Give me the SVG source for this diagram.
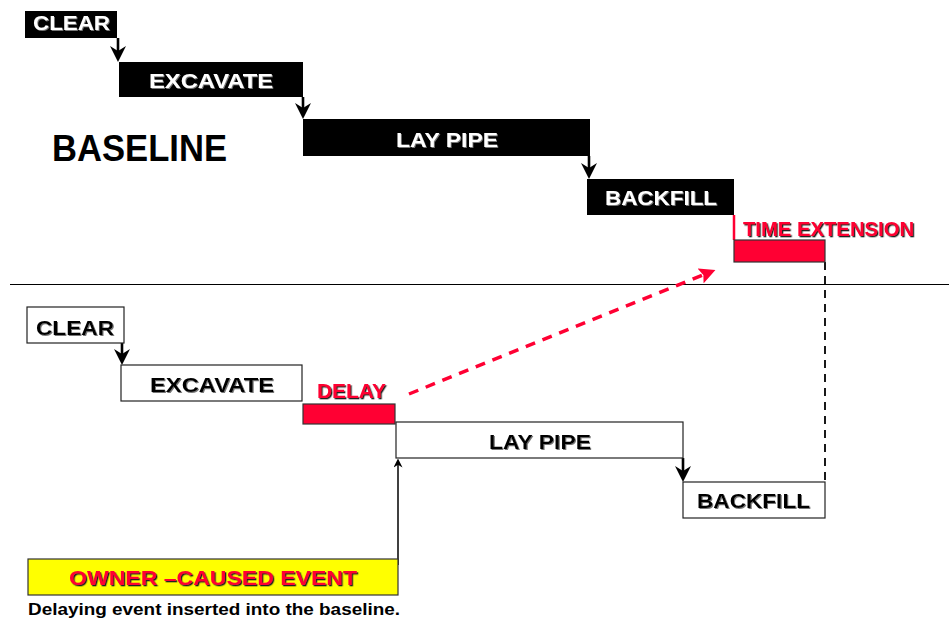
<svg xmlns="http://www.w3.org/2000/svg" width="949" height="624" viewBox="0 0 949 624">
<style>
.lbl{font-family:"Liberation Sans",Arial,sans-serif;font-weight:bold;}
.w{fill:#ffffff;font-size:20px;filter:url(#sh);}
.k{fill:#000000;font-size:21px;filter:url(#sh);}
.r{fill:#ff0033;font-size:20px;filter:url(#shr);}
.bx{fill:#000000;}
.wb{fill:#ffffff;stroke:#222222;stroke-width:1.2;}
.rb{fill:#ff0033;stroke:#333333;stroke-width:1.2;}
.con{stroke:#000000;stroke-width:2.6;fill:none;}
</style>
<defs>
<filter id="sh" x="-5%" y="-20%" width="115%" height="150%">
<feDropShadow dx="1" dy="1" stdDeviation="0.3" flood-color="#777777"/>
</filter>
<filter id="shr" x="-5%" y="-20%" width="115%" height="150%">
<feDropShadow dx="1.3" dy="1.3" stdDeviation="0.2" flood-color="#222222"/>
</filter>
<marker id="ak" viewBox="0 0 16 16" markerWidth="16" markerHeight="16" refX="7" refY="8" orient="auto" markerUnits="userSpaceOnUse">
<path d="M0,0 L16,8 L0,16 L5,8 z" fill="#000000"/>
</marker>
<marker id="aks" viewBox="0 0 10 10" markerWidth="9" markerHeight="9" refX="5" refY="5" orient="auto" markerUnits="userSpaceOnUse">
<path d="M0,0 L10,5 L0,10 L3,5 z" fill="#000000"/>
</marker>
<marker id="ar" viewBox="0 0 16 16" markerWidth="16" markerHeight="16" refX="8" refY="8" orient="auto" markerUnits="userSpaceOnUse">
<path d="M0,0 L16,8 L0,16 L3,8 z" fill="#ff0033"/>
</marker>
</defs>
<rect x="0" y="0" width="949" height="624" fill="#ffffff"/>

<g id="connectors">
<line x1="10" y1="284.5" x2="949" y2="284.5" stroke="#000000" stroke-width="1"/>
<line class="con" x1="118" y1="38" x2="118" y2="53" marker-end="url(#ak)"/>
<line class="con" x1="303" y1="97" x2="303" y2="110" marker-end="url(#ak)"/>
<line class="con" x1="589" y1="156" x2="589" y2="170" marker-end="url(#ak)"/>
<line x1="734" y1="215" x2="734" y2="240" stroke="#ff0033" stroke-width="2.5"/>
<line x1="825" y1="262" x2="825" y2="482" stroke="#000000" stroke-width="1.8" stroke-dasharray="8,6"/>
<line class="con" x1="122" y1="343" x2="122" y2="356" marker-end="url(#ak)"/>
<line class="con" x1="683" y1="458" x2="683" y2="473" marker-end="url(#ak)"/>
<line x1="398" y1="565" x2="398" y2="463" stroke="#000000" stroke-width="1.5" marker-end="url(#aks)"/>
<line x1="409" y1="394" x2="708" y2="273" stroke="#ff0033" stroke-width="3.5" stroke-dasharray="10,8" marker-end="url(#ar)"/>
</g>

<g id="baseline-label">
<text class="lbl" x="52" y="161" font-size="36" fill="#000000" textLength="175" lengthAdjust="spacingAndGlyphs">BASELINE</text>
</g>

<g id="b-clear">
<rect class="bx" x="25" y="11" width="92" height="27"/>
<text class="lbl w" x="33" y="30" textLength="77" lengthAdjust="spacingAndGlyphs">CLEAR</text>
</g>
<g id="b-excavate">
<rect class="bx" x="119" y="62" width="184" height="35"/>
<text class="lbl w" x="149" y="88" textLength="124" lengthAdjust="spacingAndGlyphs">EXCAVATE</text>
</g>
<g id="b-laypipe">
<rect class="bx" x="303" y="119" width="287" height="37"/>
<text class="lbl w" x="396" y="147" textLength="102" lengthAdjust="spacingAndGlyphs">LAY PIPE</text>
</g>
<g id="b-backfill">
<rect class="bx" x="587" y="179" width="147" height="36"/>
<text class="lbl w" x="605" y="205" textLength="112" lengthAdjust="spacingAndGlyphs">BACKFILL</text>
</g>
<g id="b-timeext">
<rect class="rb" x="734" y="240" width="91" height="22"/>
<text class="lbl r" x="743" y="236" textLength="171" lengthAdjust="spacingAndGlyphs">TIME EXTENSION</text>
</g>

<g id="d-clear">
<rect class="wb" x="27" y="307" width="97" height="36"/>
<text class="lbl k" x="36" y="335" textLength="78" lengthAdjust="spacingAndGlyphs">CLEAR</text>
</g>
<g id="d-excavate">
<rect class="wb" x="121" y="365" width="181" height="36"/>
<text class="lbl k" x="150" y="392" textLength="124" lengthAdjust="spacingAndGlyphs">EXCAVATE</text>
</g>
<g id="d-delay">
<rect class="rb" x="303" y="404" width="92" height="20"/>
<text class="lbl r" x="317" y="398" textLength="69" lengthAdjust="spacingAndGlyphs">DELAY</text>
</g>
<g id="d-laypipe">
<rect class="wb" x="396" y="422" width="287" height="36"/>
<text class="lbl k" x="489" y="449" textLength="102" lengthAdjust="spacingAndGlyphs">LAY PIPE</text>
</g>
<g id="d-backfill">
<rect class="wb" x="683" y="482" width="142" height="36"/>
<text class="lbl k" x="697" y="508" textLength="113" lengthAdjust="spacingAndGlyphs">BACKFILL</text>
</g>
<g id="owner-event">
<rect x="28" y="559" width="370" height="36" fill="#ffff00" stroke="#333333" stroke-width="1.2"/>
<text class="lbl r" x="69" y="585" font-size="22" textLength="288" lengthAdjust="spacingAndGlyphs">OWNER –CAUSED EVENT</text>
</g>
<g id="caption">
<text class="lbl" x="28" y="615" font-size="17" fill="#000000" textLength="372" lengthAdjust="spacingAndGlyphs">Delaying event inserted into the baseline.</text>
</g>
</svg>
